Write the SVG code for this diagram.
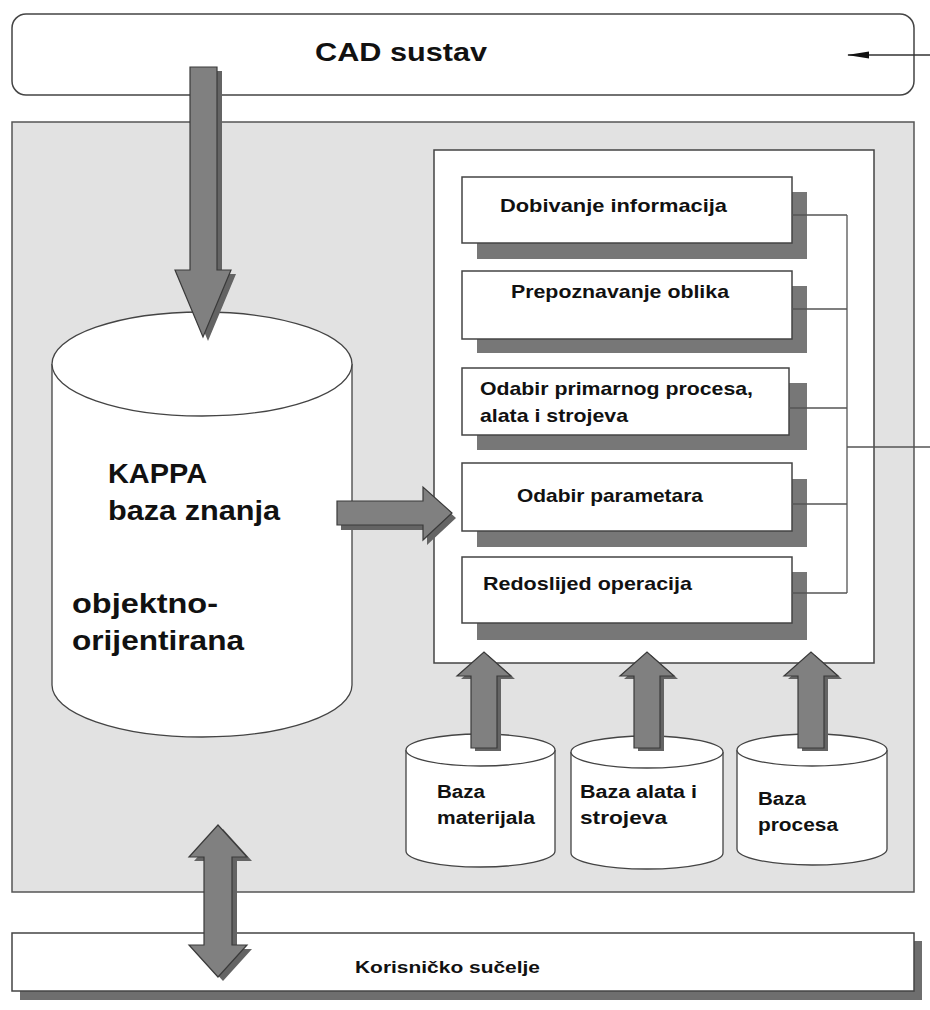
<svg xmlns="http://www.w3.org/2000/svg" width="930" height="1010" viewBox="0 0 930 1010">
<defs>
<style>
.t{font-family:"Liberation Sans",Arial,sans-serif;font-weight:bold;fill:#111}
.box{fill:#fff;stroke:#444;stroke-width:1.5}
.sh{fill:#777}
.cyl{fill:#fff;stroke:#444;stroke-width:1.3}
.ar{fill:#808080;stroke:#3a3a3a;stroke-width:1.2}
.ash{fill:#646464}
.ln{fill:none;stroke:#555;stroke-width:1.3}
</style>
<marker id="mk" markerWidth="22" markerHeight="10" refX="21" refY="5" orient="auto" markerUnits="userSpaceOnUse">
<path d="M0,1.5 L22,5 L0,8.5 Z" fill="#111"/>
</marker>
</defs>
<rect width="930" height="1010" fill="#fff"/>

<g id="cad">
<rect x="12" y="14" width="902" height="81" rx="14" ry="14" class="box"/>
<text class="t" x="315" y="61" font-size="26" textLength="172" lengthAdjust="spacingAndGlyphs">CAD sustav</text>
</g>

<g id="container">
<rect x="12" y="122" width="902" height="770" fill="#e2e2e2" stroke="#555" stroke-width="1.5"/>
</g>

<g id="korisnicko">
<rect x="20" y="941" width="902" height="59" fill="#6e6e6e"/>
<rect x="12" y="933" width="902" height="58" class="box"/>
<text class="t" x="355" y="973" font-size="17" textLength="185" lengthAdjust="spacingAndGlyphs">Korisničko sučelje</text>
</g>

<g id="kappa">
<path d="M52,364 L52,685 A150,52 0 0 0 352,685 L352,364 A150,52 0 0 0 52,364 Z" class="cyl"/>
<path d="M52,364 A150,52 0 0 0 352,364" class="cyl" fill="none"/>
<text class="t" x="108" y="483" font-size="28" textLength="99" lengthAdjust="spacingAndGlyphs">KAPPA</text>
<text class="t" x="108" y="520" font-size="28" textLength="172" lengthAdjust="spacingAndGlyphs">baza znanja</text>
<text class="t" x="72" y="613" font-size="28" textLength="146" lengthAdjust="spacingAndGlyphs">objektno-</text>
<text class="t" x="72" y="650" font-size="28" textLength="172" lengthAdjust="spacingAndGlyphs">orijentirana</text>
</g>

<g id="modules">
<rect x="434" y="150" width="440" height="513" class="box"/>
</g>

<g id="dobivanje">
<rect x="477" y="192" width="330" height="67" class="sh"/>
<rect x="462" y="177" width="330" height="66" class="box"/>
<text class="t" x="500" y="212" font-size="19" textLength="227" lengthAdjust="spacingAndGlyphs">Dobivanje informacija</text>
</g>

<g id="prepoznavanje">
<rect x="477" y="286" width="330" height="67" class="sh"/>
<rect x="462" y="271" width="330" height="68" class="box"/>
<text class="t" x="511" y="298" font-size="19" textLength="218" lengthAdjust="spacingAndGlyphs">Prepoznavanje oblika</text>
</g>

<g id="odabir-procesa">
<rect x="477" y="383" width="330" height="67" class="sh"/>
<rect x="462" y="368" width="327" height="67" class="box"/>
<text class="t" x="480" y="395" font-size="19" textLength="273" lengthAdjust="spacingAndGlyphs">Odabir primarnog procesa,</text>
<text class="t" x="480" y="422" font-size="19" textLength="148" lengthAdjust="spacingAndGlyphs">alata i strojeva</text>
</g>

<g id="odabir-parametara">
<rect x="477" y="479" width="330" height="68" class="sh"/>
<rect x="462" y="463" width="330" height="68" class="box"/>
<text class="t" x="517" y="502" font-size="19" textLength="186" lengthAdjust="spacingAndGlyphs">Odabir parametara</text>
</g>

<g id="redoslijed">
<rect x="477" y="572" width="330" height="68" class="sh"/>
<rect x="462" y="557" width="330" height="66" class="box"/>
<text class="t" x="483" y="590" font-size="19" textLength="209" lengthAdjust="spacingAndGlyphs">Redoslijed operacija</text>
</g>

<g id="baza-materijala">
<path d="M406,750 L406,851 A74.5,16 0 0 0 555,851 L555,750 A74.5,16 0 0 0 406,750 Z" class="cyl"/>
<path d="M406,750 A74.5,16 0 0 0 555,750" class="cyl" fill="none"/>
<text class="t" x="437" y="798" font-size="18" textLength="48" lengthAdjust="spacingAndGlyphs">Baza</text>
<text class="t" x="437" y="824" font-size="18" textLength="98" lengthAdjust="spacingAndGlyphs">materijala</text>
</g>

<g id="baza-alata">
<path d="M571,752 L571,853 A76,16 0 0 0 723,853 L723,752 A76,16 0 0 0 571,752 Z" class="cyl"/>
<path d="M571,752 A76,16 0 0 0 723,752" class="cyl" fill="none"/>
<text class="t" x="580" y="798" font-size="18" textLength="117" lengthAdjust="spacingAndGlyphs">Baza alata i</text>
<text class="t" x="580" y="824" font-size="18" textLength="87" lengthAdjust="spacingAndGlyphs">strojeva</text>
</g>

<g id="baza-procesa">
<path d="M737,750 L737,849 A75,16 0 0 0 887,849 L887,750 A75,16 0 0 0 737,750 Z" class="cyl"/>
<path d="M737,750 A75,16 0 0 0 887,750" class="cyl" fill="none"/>
<text class="t" x="758" y="805" font-size="18" textLength="48" lengthAdjust="spacingAndGlyphs">Baza</text>
<text class="t" x="758" y="831" font-size="18" textLength="80" lengthAdjust="spacingAndGlyphs">procesa</text>
</g>

<g id="connectors">
<path class="ln" d="M792,215 H847 M792,309 H847 M789,408 H847 M792,504 H847 M792,593 H847 M847,215 V593 M847,447 H930"/>
<line x1="930" y1="55" x2="848" y2="55" stroke="#333" stroke-width="1.3" marker-end="url(#mk)"/>

<polygon class="ash" transform="translate(5,4)" points="190,67 217,67 217,270 231,270 203,337 175,270 190,270"/>
<polygon class="ar" points="190,67 217,67 217,270 231,270 203,337 175,270 190,270"/>

<polygon class="ash" transform="translate(4,5)" points="337,501 423,501 423,487 452,513 423,540 423,525 337,525"/>
<polygon class="ar" points="337,501 423,501 423,487 452,513 423,540 423,525 337,525"/>

<polygon class="ash" transform="translate(4,3)" points="471,748 471,676 457,676 484,652 511,676 497,676 497,748"/>
<polygon class="ar" points="471,748 471,676 457,676 484,652 511,676 497,676 497,748"/>

<polygon class="ash" transform="translate(4,3)" points="634,748 634,676 620,676 647,652 674,676 660,676 660,748"/>
<polygon class="ar" points="634,748 634,676 620,676 647,652 674,676 660,676 660,748"/>

<polygon class="ash" transform="translate(4,3)" points="798,748 798,676 784,676 811,652 838,676 824,676 824,748"/>
<polygon class="ar" points="798,748 798,676 784,676 811,652 838,676 824,676 824,748"/>

<polygon class="ash" transform="translate(5,4)" points="218,825 247,857 232,857 232,945 247,945 218,977 189,945 204,945 204,857 189,857"/>
<polygon class="ar" points="218,825 247,857 232,857 232,945 247,945 218,977 189,945 204,945 204,857 189,857"/>
</g>
</svg>
